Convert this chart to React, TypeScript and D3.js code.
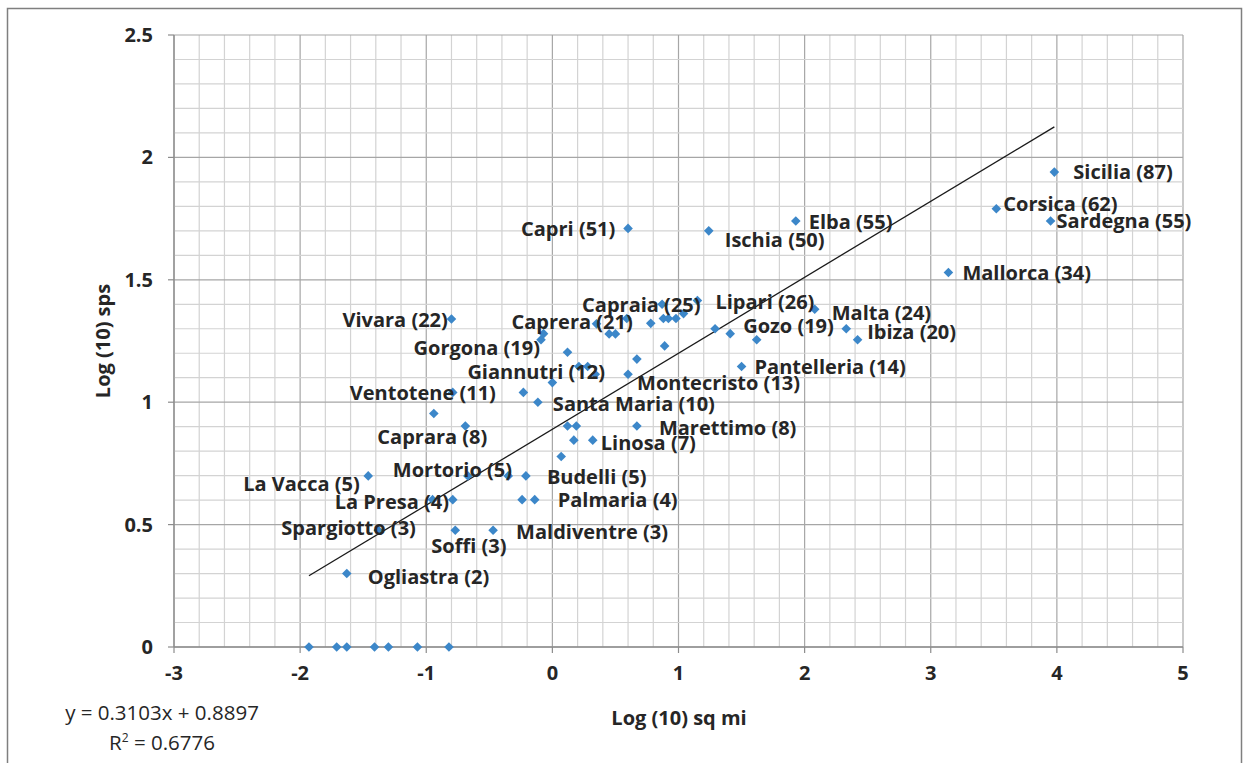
import React from "react";
import * as d3 from "d3";

// ---------- data ----------
const labeledNames = [
  "Sicilia (87)", "Corsica (62)", "Sardegna (55)", "Mallorca (34)", "Elba (55)",
  "Ischia (50)", "Capri (51)", "Capraia (25)", "Lipari (26)", "Malta (24)",
  "Caprera (21)", "Vivara (22)", "Gozo (19)", "Ibiza (20)", "Gorgona (19)",
  "Giannutri (12)", "Pantelleria (14)", "Montecristo (13)", "Ventotene (11)", "Santa Maria (10)",
  "Caprara (8)", "Marettimo (8)", "Linosa (7)", "La Vacca (5)", "Mortorio (5)",
  "Budelli (5)", "La Presa (4)", "Palmaria (4)", "Spargiotto (3)", "Maldiventre (3)",
  "Soffi (3)", "Ogliastra (2)",
];
const labeledX = [
  3.98, 3.52, 3.95, 3.14, 1.93,
  1.24, 0.60, 0.87, 1.15, 2.08,
  0.35, -0.80, 1.41, 2.33, -0.07,
  0.00, 1.50, 0.60, -0.79, -0.115,
  -0.69, 0.67, 0.32, -1.46, -0.67,
  -0.21, -0.79, -0.14, -1.38, -0.47,
  -0.77, -1.63,
];
const labeledY = [
  1.94, 1.79, 1.74, 1.53, 1.74,
  1.70, 1.71, 1.40, 1.415, 1.38,
  1.32, 1.34, 1.28, 1.30, 1.28,
  1.08, 1.146, 1.114, 1.04, 1.0,
  0.903, 0.903, 0.845, 0.699, 0.699,
  0.699, 0.602, 0.602, 0.477, 0.477,
  0.477, 0.30,
];
const otherX = [
  -1.93, -1.71, -1.63, -1.41, -1.30, -1.07, -0.82,
  -0.95, -0.24, -0.35, 0.07, 0.17, 0.12, 0.19, -0.94,
  -0.23, 0.34, 0.21, 0.28, 0.67, 0.12, 0.89, 1.62,
  2.42, -0.09, 0.45, 0.50, 1.29, 0.78, 0.59, 0.88,
  0.92, 0.98, 1.04,
];
const otherY = [
  0, 0, 0, 0, 0, 0, 0,
  0.602, 0.602, 0.699, 0.778, 0.845, 0.903, 0.903, 0.954,
  1.04, 1.114, 1.146, 1.146, 1.176, 1.204, 1.23, 1.255,
  1.255, 1.255, 1.279, 1.279, 1.30, 1.322, 1.342, 1.342,
  1.342, 1.342, 1.362,
];
const xTicks = [-3, -2, -1, 0, 1, 2, 3, 4, 5];
const yTicks = [0, 0.5, 1, 1.5, 2, 2.5];
const slope = 0.3103;
const intercept = 0.8897;
const equationText = "y = 0.3103x + 0.8897";
const r2Value = "0.6776";
const xTitle = "Log (10) sq mi";
const yTitle = "Log (10) sps";

// ---------- layout (label offsets in px from marker: text start x, centre y) ----------
const labelOffsets: [number, number][] = [
  [19, 0], [7, -5], [6, 0], [14, 1], [13, 1],
  [16, 9], [-107, 1], [-80, 1], [18, 1], [17, 4],
  [-85, -2], [-109, 1], [13, -8], [21, 3], [-130, 14],
  [-85, -11], [13, 1], [9, 9], [-103, 1], [15, 2],
  [-88, 11], [22, 2], [8, 3], [-125, 8], [-75, -6],
  [21, 1], [-118, 2], [23, 0], [-97, -2], [23, 2],
  [-24, 16], [21, 3],
];

const W = 1250;
const H = 763;
const FONT = "'Open Sans', sans-serif";
const TEXT = "#262626";
const BLUE = "#3C87C9";
const FS = 20;

export default function App() {
  const x = d3.scaleLinear().domain([-3, 5]).range([174, 1183]);
  const y = d3.scaleLinear().domain([0, 2.5]).range([647, 35]);

  const minorX = d3.range(-3, 5.0001, 0.2).map((v) => +v.toFixed(2));
  const minorY = d3.range(0, 2.5001, 0.1).map((v) => +v.toFixed(2));

  const allX = [...labeledX, ...otherX];
  const x0 = d3.min(allX) as number;
  const x1 = d3.max(allX) as number;
  const line = d3
    .line<number>()
    .x((d) => x(d))
    .y((d) => y(slope * d + intercept));

  const diamond = (cx: number, cy: number, r = 4.8) =>
    `M${cx},${cy - r}L${cx + r},${cy}L${cx},${cy + r}L${cx - r},${cy}Z`;

  const points = [
    ...otherX.map((v, i) => [v, otherY[i]]),
    ...labeledX.map((v, i) => [v, labeledY[i]]),
  ];

  return (
    <svg
      width={W}
      height={H}
      style={{ position: "absolute", left: 0, top: 0, background: "#fff" }}
      fontFamily={FONT}
    >
      <rect x={7.5} y={8.5} width={1234} height={H + 10} fill="#fff" stroke="#7f7f7f" strokeWidth={1.5} />
      {/* grid */}
      <g>
        {minorX.map((v) => (
          <line
            key={"gx" + v}
            x1={x(v)} x2={x(v)} y1={y(0)} y2={y(2.5)}
            stroke={Math.abs(v - Math.round(v)) < 1e-6 ? "#a6a6a6" : "#d3d3d3"}
            strokeWidth={1.2}
          />
        ))}
        {minorY.map((v) => (
          <line
            key={"gy" + v}
            x1={x(-3)} x2={x(5)} y1={y(v)} y2={y(v)}
            stroke={Math.abs(v * 2 - Math.round(v * 2)) < 1e-6 ? "#a6a6a6" : "#d3d3d3"}
            strokeWidth={1.2}
          />
        ))}
      </g>
      {/* axes */}
      <line x1={x(-3)} x2={x(-3)} y1={y(0)} y2={y(2.5)} stroke="#8c8c8c" strokeWidth={1.3} />
      <line x1={x(-3)} x2={x(5)} y1={y(0)} y2={y(0)} stroke="#8c8c8c" strokeWidth={1.3} />
      {xTicks.map((t) => (
        <g key={"xt" + t}>
          <line x1={x(t)} x2={x(t)} y1={y(0)} y2={y(0) + 6} stroke="#8c8c8c" strokeWidth={1.2} />
          <text x={x(t)} y={y(0) + 33} textAnchor="middle" fontSize={FS} fontWeight="bold" fill={TEXT}>
            {t}
          </text>
        </g>
      ))}
      {yTicks.map((t) => (
        <g key={"yt" + t}>
          <line x1={x(-3) - 6} x2={x(-3)} y1={y(t)} y2={y(t)} stroke="#8c8c8c" strokeWidth={1.2} />
          <text x={x(-3) - 21} y={y(t)} dy="0.35em" textAnchor="end" fontSize={FS} fontWeight="bold" fill={TEXT}>
            {t}
          </text>
        </g>
      ))}
      <text x={679} y={718} dy="0.35em" textAnchor="middle" fontSize={FS} fontWeight="bold" fill={TEXT}>
        {xTitle}
      </text>
      <text
        transform={`translate(103,${y(1.25)}) rotate(-90)`}
        dy="0.35em"
        textAnchor="middle"
        fontSize={FS}
        fontWeight="bold"
        fill={TEXT}
      >
        {yTitle}
      </text>
      {/* trendline */}
      <path d={line([x0, x1]) || ""} fill="none" stroke="#1a1a1a" strokeWidth={1.3} />
      {/* markers */}
      {points.map((p, i) => (
        <path key={"p" + i} d={diamond(x(p[0]), y(p[1]))} fill={BLUE} />
      ))}
      {/* labels */}
      {labeledNames.map((n, i) => (
        <text
          key={"l" + i}
          x={x(labeledX[i]) + labelOffsets[i][0]}
          y={y(labeledY[i]) + labelOffsets[i][1]}
          dy="0.35em"
          fontSize={FS}
          fontWeight="bold"
          fill={TEXT}
        >
          {n}
        </text>
      ))}
      {/* equation */}
      <text x={162} y={713} dy="0.35em" textAnchor="middle" fontSize={20.5} fill={TEXT}>
        {equationText}
      </text>
      <text x={162} y={743} dy="0.35em" textAnchor="middle" fontSize={20.5} fill={TEXT}>
        R<tspan baselineShift="super" fontSize={12}>2</tspan> = {r2Value}
      </text>
    </svg>
  );
}
